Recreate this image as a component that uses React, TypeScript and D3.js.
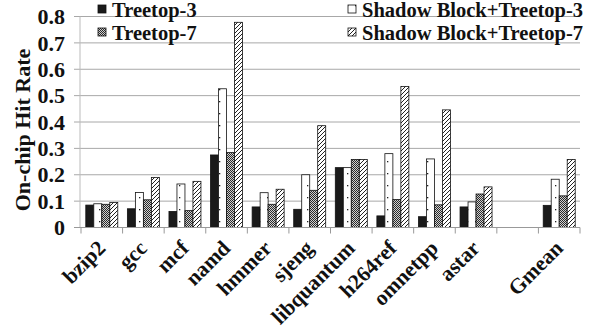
import React from 'react';
import * as d3 from 'd3';

const categories = ['bzip2', 'gcc', 'mcf', 'namd', 'hmmer', 'sjeng', 'libquantum', 'h264ref', 'omnetpp', 'astar', '', 'Gmean'];
const seriesNames = ['Treetop-3', 'Shadow Block+Treetop-3', 'Treetop-7', 'Shadow Block+Treetop-7'];

const treetop3 = [0.085, 0.071, 0.061, 0.275, 0.078, 0.069, 0.227, 0.044, 0.041, 0.078, null, 0.084];
const shadowTreetop3 = [0.09, 0.133, 0.165, 0.526, 0.132, 0.2, 0.227, 0.28, 0.26, 0.097, null, 0.183];
const treetop7 = [0.088, 0.105, 0.064, 0.284, 0.088, 0.141, 0.258, 0.106, 0.086, 0.127, null, 0.12];
const shadowTreetop7 = [0.095, 0.19, 0.175, 0.778, 0.145, 0.386, 0.258, 0.535, 0.446, 0.154, null, 0.258];

const yTicks = [0, 0.1, 0.2, 0.3, 0.4, 0.5, 0.6, 0.7, 0.8];

const series = [treetop3, shadowTreetop3, treetop7, shadowTreetop7];
const fills = ['#1a1a1a', 'url(#dots)', 'url(#checker)', 'url(#hatch)'];

const font = '"Liberation Serif", "Times New Roman", serif';

export default function App() {
  const width = 600, height = 335;
  const margin = {left: 81, right: 20, top: 16.5, bottom: 107.5};

  const x = d3.scaleBand().domain(categories.map((c, i) => i + '')).range([margin.left, width - margin.right]);
  const inner = d3.scaleBand().domain(seriesNames).range([0, x.bandwidth()]).paddingOuter(0.6);
  const y = d3.scaleLinear().domain([0, 0.8]).range([height - margin.bottom, margin.top]);

  const bounds = categories.map((c, i) => x(i + '')!).concat([width - margin.right]);

  return (
    <svg width={width} height={height} style={{position: 'absolute', left: 0, top: 0}}>
      <defs>
        <pattern id="dots" width="8" height="12" patternUnits="userSpaceOnUse">
          <rect width="8" height="12" fill="#fff"/>
          <rect x="3" y="5" width="1.3" height="1.3" fill="#222"/>
        </pattern>
        <pattern id="checker" width="2" height="2" patternUnits="userSpaceOnUse">
          <rect width="2" height="2" fill="#d0d0d0"/>
          <rect width="1" height="1" fill="#2a2a2a"/>
          <rect x="1" y="1" width="1" height="1" fill="#2a2a2a"/>
        </pattern>
        <pattern id="hatch" width="4" height="4" patternUnits="userSpaceOnUse">
          <rect width="4" height="4" fill="#fff"/>
          <path d="M-1,1 l2,-2 M0,4 l4,-4 M3,5 l2,-2" stroke="#222" strokeWidth="1"/>
        </pattern>
      </defs>

      {/* gridlines */}
      {yTicks.filter(t => t > 0).map(t => (
        <line key={t} x1={74} x2={width - margin.right} y1={y(t)} y2={y(t)} stroke="#a8a8a8" strokeWidth={1}/>
      ))}
      <line x1={80} x2={80} y1={y(0.8)} y2={y(0)} stroke="#bbb" strokeWidth={1}/>

      {/* bars */}
      {categories.map((c, i) => (
        <g key={i}>
          {series.map((s, k) => s[i] == null ? null : (
            <rect key={k}
                  x={x(i + '')! + inner(seriesNames[k])!}
                  y={y(s[i]!)}
                  width={inner.bandwidth()}
                  height={y(0) - y(s[i]!)}
                  fill={fills[k]} stroke="#111" strokeWidth={0.8}/>
          ))}
        </g>
      ))}

      {/* x axis */}
      <line x1={margin.left - 7} x2={width - margin.right} y1={y(0)} y2={y(0)} stroke="#999" strokeWidth={1.2}/>
      {bounds.map((b, i) => (
        <line key={i} x1={b} x2={b} y1={y(0)} y2={y(0) + 6} stroke="#999" strokeWidth={1}/>
      ))}
      {categories.map((c, i) => (
        <text key={i} transform={`translate(${x(i + '')! + x.bandwidth() / 2 + 5},${y(0) + 22}) rotate(-45)`}
              textAnchor="end" fontFamily={font} fontWeight="bold" fontSize={21.5} fill="#111">{c}</text>
      ))}

      {/* y axis */}
      {yTicks.map(t => (
        <text key={t} x={65} y={y(t)} dy="0.35em" textAnchor="end" fontFamily={font} fontWeight="bold"
              fontSize={22} fill="#111">{t === 0 ? '0' : d3.format('.1f')(t)}</text>
      ))}
      <text transform={`translate(30,${(y(0) + y(0.8)) / 2 + 8}) rotate(-90)`} textAnchor="middle"
            fontFamily={font} fontWeight="bold" fontSize={22} fill="#111">On-chip Hit Rate</text>

      {/* legend */}
      {seriesNames.map((n, k) => {
        const lx = k % 2 === 0 ? 98 : 348;
        const ly = k < 2 ? 5 : 28;
        return (
          <g key={n}>
            <rect x={lx} y={ly} width={8} height={8} fill={fills[k]} stroke="#111" strokeWidth={0.8}/>
            <text x={lx + 14} y={ly + 12} fontFamily={font} fontWeight="bold" fontSize={20.5} fill="#111">{n}</text>
          </g>
        );
      })}
    </svg>
  );
}
